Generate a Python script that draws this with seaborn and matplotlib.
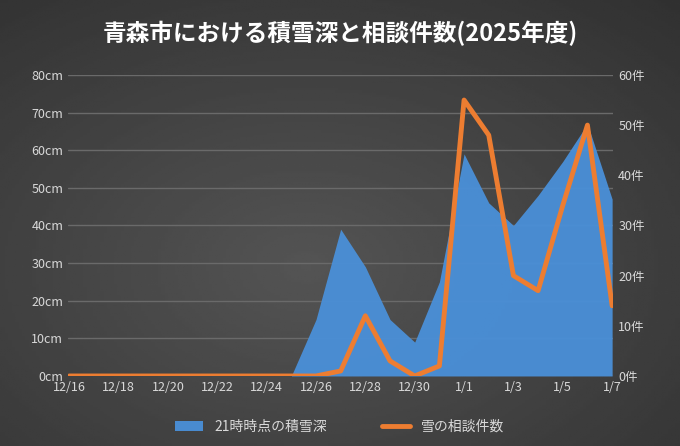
import matplotlib
matplotlib.use("Agg")
import matplotlib.pyplot as plt
import seaborn as sns
import numpy as np
import pandas as pd

dates = ["12/16", "12/17", "12/18", "12/19", "12/20", "12/21", "12/22", "12/23",
         "12/24", "12/25", "12/26", "12/27", "12/28", "12/29", "12/30", "12/31",
         "1/1", "1/2", "1/3", "1/4", "1/5", "1/6", "1/7"]
snow_cm = [0, 0, 0, 0, 0, 0, 0, 0, 0, 0, 15, 39, 29, 15, 9, 25, 59, 46, 40, 48, 57, 67, 47]
consult = [0, 0, 0, 0, 0, 0, 0, 0, 0, 0, 0, 1, 12, 3, 0, 2, 55, 48, 20, 17, 34, 50, 14]

df = pd.DataFrame({"date": dates, "snow": snow_cm, "count": consult})
df["x"] = range(len(df))

sns.set_theme(style="dark")
plt.rcParams['font.family'] = ['Noto Sans CJK JP', 'DejaVu Sans']

fig = plt.figure(figsize=(6.8, 4.46), dpi=100)
# 背景グラデーション
bg = fig.add_axes([0, 0, 1, 1], zorder=-10)
yy, xx = np.mgrid[0:1:200j, 0:1:200j]
r = np.sqrt((xx - 0.45) ** 2 + (yy - 0.6) ** 2)
bg.imshow(0.33 - 0.17 * r, cmap="gray", vmin=0, vmax=1, aspect="auto", extent=[0, 1, 0, 1])
bg.axis("off")

ax = fig.add_axes([0.1, 0.157, 0.802, 0.675])
ax.set_facecolor("none")
ax.fill_between(df["x"], df["snow"], color="#4a90d9", alpha=0.95, lw=0, label="21時時点の積雪深")
ax.set_ylim(0, 80)
ax.set_xlim(-0.05, len(df) - 0.95)
ax.set_yticks(range(0, 81, 10))
ax.set_yticklabels([f"{v}cm" for v in range(0, 81, 10)], color="#d9d9d9", fontsize=9)
ax.set_xticks(df["x"][::2])
ax.set_xticklabels(df["date"][::2], color="#d9d9d9", fontsize=9)
ax.grid(axis="y", color="#6a6a6a", lw=1)
ax.grid(axis="x", visible=False)
for s in ax.spines.values():
    s.set_visible(False)
ax.tick_params(length=0)

ax2 = ax.twinx()
sns.lineplot(data=df, x="x", y="count", ax=ax2, color="#ed7d31", lw=3.5, label="雪の相談件数", legend=False)
ax2.set_ylim(0, 60)
ax2.set_yticks(range(0, 61, 10))
ax2.set_yticklabels([f"{v}件" for v in range(0, 61, 10)], color="#d9d9d9", fontsize=9)
ax2.set_ylabel("")
ax2.set_xlabel("")
ax2.grid(False)
for s in ax2.spines.values():
    s.set_visible(False)
ax2.tick_params(length=0)

h1, l1 = ax.get_legend_handles_labels()
h2, l2 = ax2.get_legend_handles_labels()
leg = fig.legend(h1 + h2, l1 + l2, loc="lower center", ncol=2, frameon=False,
                 bbox_to_anchor=(0.5, 0.0), fontsize=10, columnspacing=4)
for t in leg.get_texts():
    t.set_color("#d9d9d9")

fig.text(0.5, 0.926, "青森市における積雪深と相談件数(2025年度)", ha="center", va="center",
         color="white", fontsize=17, weight="bold")

fig.savefig("out.png", dpi=100)
